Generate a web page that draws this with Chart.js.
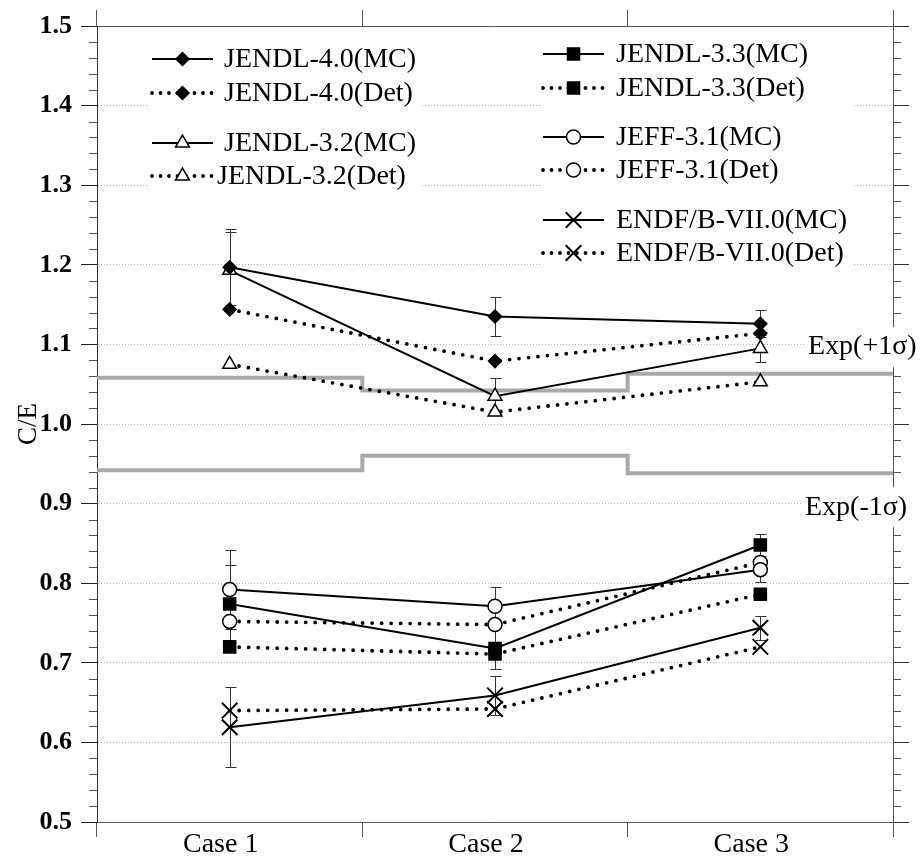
<!DOCTYPE html>
<html>
<head>
<meta charset="utf-8">
<title>C/E</title>
<script src="https://cdn.jsdelivr.net/npm/chart.js@4.4.0/dist/chart.umd.min.js"></script>
<style>
  html, body { margin: 0; padding: 0; background: #fff; }
  #wrap { position: relative; width: 924px; height: 860px; }
</style>
</head>
<body>
<div id="wrap"><canvas id="myChart"></canvas></div>
<script>
const cases = ["Case 1", "Case 2", "Case 3"];

// C/E values per case
const jendl40MC = [1.197, 1.135, 1.126];
const jendl40Det = [1.144, 1.079, 1.114];
const jendl32MC = [1.193, 1.035, 1.095];
const jendl32Det = [1.075, 1.015, 1.053];
const jendl33MC = [0.774, 0.718, 0.848];
const jendl33Det = [0.720, 0.711, 0.786];
const jeff31MC = [0.792, 0.771, 0.817];
const jeff31Det = [0.752, 0.748, 0.826];
const endfMC = [0.619, 0.659, 0.744];
const endfDet = [0.640, 0.642, 0.720];

// MC statistical error (1 sigma)
const jendl40Err = [0.048, 0.025, 0.017];
const jendl32Err = [0.048, 0.023, 0.017];
const jendl33Err = [0.049, 0.026, 0.014];
const jeff31Err = [0.050, 0.024, 0.015];
const endfErr = [0.050, 0.025, 0.015];

// experimental band
const expPlus = [1.058, 1.042, 1.063];
const expMinus = [0.942, 0.960, 0.938];

const yMin = 0.5;
const yMax = 1.5;
const yStep = 0.1;
const yMinorStep = 0.02;

const FONT = "'Liberation Serif', 'Times New Roman', serif";

// step band: one flat segment across each case
const band = (vals) =>
  vals.map((v, i) => ({ x: i + 0.5, y: v })).concat([{ x: vals.length + 0.5, y: vals[vals.length - 1] }]);

const mc = (label, data, errors, pointStyle, radius, fill) => ({
  label, data, errors, pointStyle,
  pointRadius: radius,
  pointBackgroundColor: fill,
  pointBorderColor: "#000",
  pointBorderWidth: pointStyle === "crossRot" ? 2 : 1.5,
  borderColor: "#000",
  borderWidth: 2,
  borderCapStyle: "butt",
  borderDash: [],
  xAxisID: "x", yAxisID: "y", order: 0,
});

const det = (label, data, pointStyle, radius, fill) => ({
  label, data, pointStyle,
  pointRadius: radius,
  pointBackgroundColor: fill,
  pointBorderColor: "#000",
  pointBorderWidth: pointStyle === "crossRot" ? 2 : 1.5,
  borderColor: "#000",
  borderWidth: 3.8,
  borderCapStyle: "round",
  borderDash: [0, 9.5],
  xAxisID: "x", yAxisID: "y", order: 0,
});

const datasets = [
  mc("JENDL-4.0(MC)", jendl40MC, jendl40Err, "rectRot", 6.5, "#000"),
  det("JENDL-4.0(Det)", jendl40Det, "rectRot", 6.5, "#000"),
  mc("JENDL-3.2(MC)", jendl32MC, jendl32Err, "triangle", 8, "#fff"),
  det("JENDL-3.2(Det)", jendl32Det, "triangle", 8, "#fff"),
  mc("JENDL-3.3(MC)", jendl33MC, jendl33Err, "rect", 8.5, "#000"),
  det("JENDL-3.3(Det)", jendl33Det, "rect", 8.5, "#000"),
  mc("JEFF-3.1(MC)", jeff31MC, jeff31Err, "circle", 7, "#fff"),
  det("JEFF-3.1(Det)", jeff31Det, "circle", 7, "#fff"),
  mc("ENDF/B-VII.0(MC)", endfMC, endfErr, "crossRot", 11, "#000"),
  det("ENDF/B-VII.0(Det)", endfDet, "crossRot", 11, "#000"),
  {
    label: "Exp(+1σ)", data: band(expPlus), xAxisID: "xs", yAxisID: "y",
    stepped: "before", borderColor: "#a9a9a9", borderWidth: 4, pointRadius: 0, order: 1,
  },
  {
    label: "Exp(-1σ)", data: band(expMinus), xAxisID: "xs", yAxisID: "y",
    stepped: "before", borderColor: "#a9a9a9", borderWidth: 4, pointRadius: 0, order: 1,
  },
];

// short ticks between the labelled ones, both sides
const minorTicks = {
  id: "minorTicks",
  afterDraw(chart) {
    const { ctx, chartArea: a, scales: { y } } = chart;
    const n = Math.round((yMax - yMin) / yMinorStep);
    const every = Math.round(yStep / yMinorStep);
    ctx.save();
    ctx.strokeStyle = "#555";
    ctx.lineWidth = 1;
    ctx.beginPath();
    for (let k = 1; k < n; k++) {
      if (k % every === 0) continue;
      const py = Math.round(y.getPixelForValue(yMin + k * yMinorStep)) + 0.5;
      ctx.moveTo(a.left - 8, py); ctx.lineTo(a.left, py);
      ctx.moveTo(a.right, py); ctx.lineTo(a.right + 8, py);
    }
    ctx.stroke();
    ctx.restore();
  },
};

const errorBars = {
  id: "errorBars",
  beforeDatasetsDraw(chart) {
    const { ctx, scales: { y } } = chart;
    ctx.save();
    ctx.strokeStyle = "#333";
    ctx.lineWidth = 1;
    chart.data.datasets.forEach((ds, i) => {
      if (!ds.errors) return;
      chart.getDatasetMeta(i).data.forEach((pt, j) => {
        const v = ds.data[j], e = ds.errors[j];
        const x = Math.round(pt.x) + 0.5;
        const top = Math.round(y.getPixelForValue(v + e)) + 0.5;
        const bot = Math.round(y.getPixelForValue(v - e)) + 0.5;
        ctx.beginPath();
        ctx.moveTo(x, top); ctx.lineTo(x, bot);
        ctx.moveTo(x - 5, top); ctx.lineTo(x + 6, top);
        ctx.moveTo(x - 5, bot); ctx.lineTo(x + 6, bot);
        ctx.stroke();
      });
    });
    ctx.restore();
  },
};

// two legend blocks inside the plot
const legendBoxes = [
  { x: 147, y: 34, w: 275, h: 162 },
  { x: 540, y: 30, w: 313, h: 245 },
];
const legendRows = [
  { ds: 0, x0: 152, x1: 213, y: 59, tx: 224 },
  { ds: 1, x0: 152, x1: 213, y: 93, tx: 224 },
  { ds: 2, x0: 152, x1: 213, y: 143, tx: 224 },
  { ds: 3, x0: 152, x1: 213, y: 176, tx: 217 },
  { ds: 4, x0: 543, x1: 604, y: 54, tx: 616 },
  { ds: 5, x0: 543, x1: 604, y: 88, tx: 616 },
  { ds: 6, x0: 543, x1: 604, y: 137, tx: 616 },
  { ds: 7, x0: 543, x1: 604, y: 170, tx: 616 },
  { ds: 8, x0: 543, x1: 604, y: 220, tx: 616 },
  { ds: 9, x0: 543, x1: 604, y: 253, tx: 616 },
];

const insideLegend = {
  id: "insideLegend",
  afterDraw(chart) {
    const { ctx } = chart;
    ctx.save();
    ctx.fillStyle = "#fff";
    legendBoxes.forEach((b) => ctx.fillRect(b.x, b.y, b.w, b.h));
    legendRows.forEach((r) => {
      const ds = chart.data.datasets[r.ds];
      ctx.strokeStyle = ds.borderColor;
      ctx.lineWidth = ds.borderWidth;
      ctx.lineCap = ds.borderCapStyle;
      ctx.setLineDash(ds.borderDash.length ? [0, 8.5] : []);
      ctx.beginPath();
      ctx.moveTo(r.x0, r.y);
      ctx.lineTo(r.x1, r.y);
      ctx.stroke();
      ctx.setLineDash([]);
      ctx.lineCap = "butt";
      ctx.fillStyle = ds.pointBackgroundColor;
      ctx.strokeStyle = ds.pointBorderColor;
      ctx.lineWidth = ds.pointBorderWidth;
      Chart.helpers.drawPoint(ctx, {
        pointStyle: ds.pointStyle, radius: ds.pointRadius, rotation: 0, borderWidth: ds.pointBorderWidth,
      }, (r.x0 + r.x1) / 2, r.y);
      ctx.fillStyle = "#000";
      ctx.font = "28px " + FONT;
      ctx.textAlign = "left";
      ctx.textBaseline = "middle";
      ctx.fillText(ds.label, r.tx, r.y + 1);
    });
    ctx.restore();
  },
};

// names of the two band edges, at the right margin
const bandLabels = {
  id: "bandLabels",
  afterDraw(chart) {
    const { ctx, chartArea: a, scales: { y } } = chart;
    const items = [
      { text: chart.data.datasets[10].label, v: 1.0966, x: a.right - 85 },
      { text: chart.data.datasets[11].label, v: 0.8955, x: a.right - 88 },
    ];
    ctx.save();
    ctx.font = "28px " + FONT;
    ctx.textAlign = "left";
    ctx.textBaseline = "middle";
    items.forEach((it) => {
      const py = y.getPixelForValue(it.v);
      const w = ctx.measureText(it.text).width;
      ctx.fillStyle = "#fff";
      ctx.fillRect(it.x - 3, py - 20, w + 6, 40);
      ctx.fillStyle = "#000";
      ctx.fillText(it.text, it.x, py);
    });
    ctx.restore();
  },
};

const ctx = document.querySelector("#myChart");

const myChart = new Chart(ctx, {
  type: "line",
  data: { labels: cases, datasets },
  options: {
    responsive: true,
    maintainAspectRatio: false,
    animation: false,
    layout: { padding: 0 },
    plugins: {
      legend: { display: false },
      tooltip: { enabled: false },
    },
    scales: {
      x: {
        type: "category",
        position: "bottom",
        offset: true,
        grid: { offset: true, drawOnChartArea: false, tickLength: 15, tickColor: "#555", tickWidth: 1 },
        border: { color: "#555", width: 1 },
        ticks: {
          color: "#000",
          font: { family: FONT, size: 28, lineHeight: 1 },
          padding: -6,
          labelOffset: -9,
          maxRotation: 0,
          autoSkip: false,
        },
        afterFit: (s) => { s.height = 38; },
      },
      xt: {
        type: "category",
        position: "top",
        offset: true,
        grid: { offset: true, drawOnChartArea: false, tickLength: 16, tickColor: "#555", tickWidth: 1 },
        border: { color: "#555", width: 1 },
        ticks: { display: false },
        afterFit: (s) => { s.height = 26; },
      },
      xs: { type: "linear", display: false, min: 0.5, max: 3.5 },
      y: {
        type: "linear",
        position: "left",
        min: yMin,
        max: yMax,
        ticks: {
          stepSize: yStep,
          callback: (v) => v.toFixed(1),
          color: "#000",
          font: { family: FONT, size: 26, weight: "bold" },
          padding: 9,
        },
        grid: { color: "#b5b5b5", lineWidth: 1, tickLength: 16, tickColor: "#222" },
        border: { color: "#333", width: 1, dash: [1, 2] },
        title: {
          display: true,
          text: "C/E",
          color: "#000",
          font: { family: FONT, size: 27 },
          padding: { top: 13, bottom: 0 },
        },
        afterFit: (s) => { s.width = 97; },
      },
      yr: {
        type: "linear",
        position: "right",
        min: yMin,
        max: yMax,
        ticks: { stepSize: yStep, display: false },
        grid: { drawOnChartArea: false, tickLength: 16, tickColor: "#333" },
        border: { color: "#555", width: 1 },
        afterFit: (s) => { s.width = 31; },
      },
    },
  },
  plugins: [minorTicks, errorBars, insideLegend, bandLabels],
});
</script>
</body>
</html>
